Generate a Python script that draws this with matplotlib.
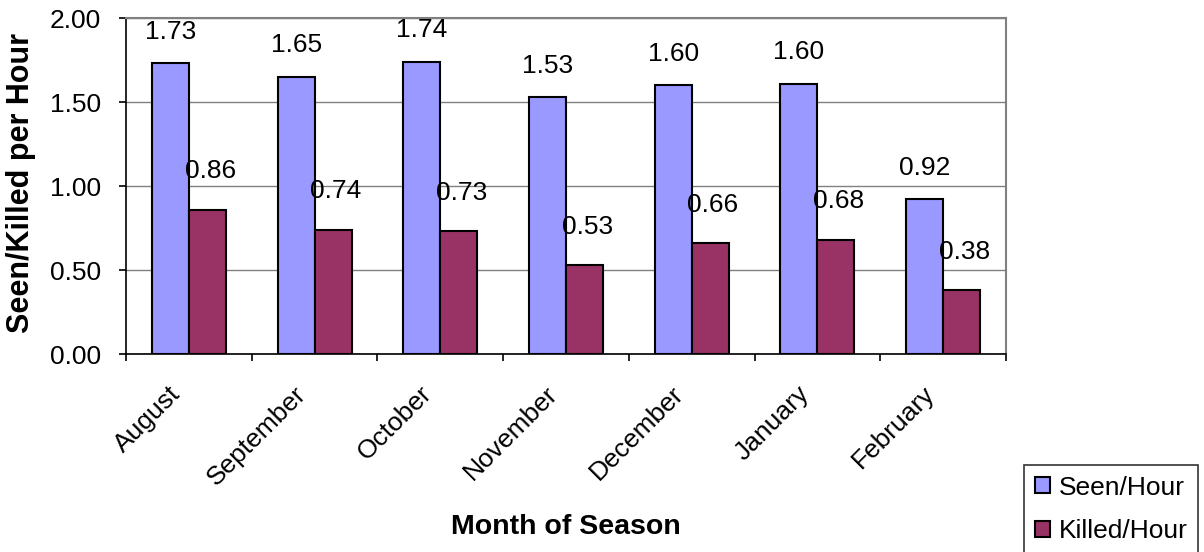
import matplotlib.pyplot as plt
import numpy as np

plt.rcParams['font.family'] = ['Liberation Sans', 'DejaVu Sans']

### monthly rates over the season
months = ['August', 'September', 'October', 'November', 'December', 'January', 'February']
seen = [1.73, 1.65, 1.74, 1.53, 1.60, 1.61, 0.92]
seen_lbl = ['1.73', '1.65', '1.74', '1.53', '1.60', '1.60', '0.92']
killed = [0.86, 0.74, 0.73, 0.53, 0.66, 0.68, 0.38]

W, H = 1204, 552
fig = plt.figure(figsize=(W / 100, H / 100), dpi=100)
ax = fig.add_axes([126 / W, 1 - 354 / H, 880 / W, 336 / H])

x = np.arange(len(months))
w = 0.294
b1 = ax.bar(x - w/2, seen, w, color='#9999FF', edgecolor='black', linewidth=1.5,
            label='Seen/Hour', zorder=3)
b2 = ax.bar(x + w/2, killed, w, color='#993366', edgecolor='black', linewidth=1.5,
            label='Killed/Hour', zorder=3)

### value labels floating above each bar
for xi, v, s in zip(x, seen, seen_lbl):
    ax.annotate(s, (xi - w/2, v), xytext=(0, 14), textcoords='offset points',
                ha='center', va='bottom', fontsize=19)
for xi, v in zip(x, killed):
    ax.annotate('%.2f' % v, (xi + w/2, v), xytext=(2, 19), textcoords='offset points',
                ha='center', va='bottom', fontsize=19)

ax.set_xlim(-0.5, len(months) - 0.5)
ax.set_ylim(0, 2.0)
yt = np.arange(0, 2.01, 0.5)
ax.set_yticks(yt)
ax.set_yticklabels(['%.2f' % v for v in yt], fontsize=19)
ax.yaxis.grid(True, color='#808080', linewidth=1, zorder=0)

# month names slanted under each group, ticks sit between groups
ax.set_xticks(np.arange(-0.5, len(months)))
ax.set_xticklabels([])
ax.tick_params(axis='x', length=5, width=1.2)
ax.tick_params(axis='y', length=5, width=1.2, pad=13)
for xi, m in zip(x, months):
    ax.annotate(m, (xi, 0), xycoords=('data', 'axes fraction'),
                xytext=(-12, -36), textcoords='offset pixels',
                rotation=45, ha='right', va='center', rotation_mode='anchor',
                fontsize=19)

for side in ['top', 'right']:
    ax.spines[side].set_color('#808080')
    ax.spines[side].set_linewidth(1.5)
for side in ['left', 'bottom']:
    ax.spines[side].set_linewidth(1.2)

fig.text(21 / W, 1 - 183 / H, 'Seen/Killed per Hour', fontsize=22, fontweight='bold',
         rotation=90, ha='center', va='center')
fig.text(566 / W, 1 - 527 / H, 'Month of Season', fontsize=20.5, fontweight='bold',
         ha='center', va='center')

leg = fig.legend(handles=[b1, b2], loc='upper left', bbox_to_anchor=(1024 / W, 1 - 465 / H),
                 fontsize=19, frameon=True, fancybox=False, edgecolor='black',
                 handlelength=0.57, handleheight=0.57, handletextpad=0.35,
                 borderpad=0.4, labelspacing=0.75, borderaxespad=0)
leg.get_frame().set_linewidth(1.2)

plt.savefig('out.png', dpi=100)
